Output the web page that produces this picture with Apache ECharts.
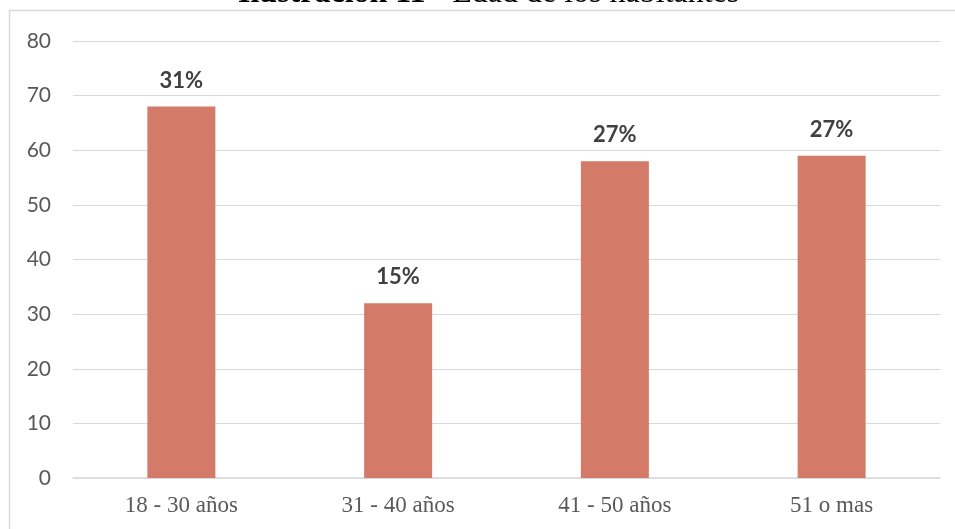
<!DOCTYPE html>
<html>
<head>
<meta charset="utf-8">
<script src="https://cdn.jsdelivr.net/npm/echarts@6/dist/echarts.min.js"></script>
<style>html,body{margin:0;padding:0;background:#fff}#c{width:955px;height:529px}</style>
</head>
<body>
<div id="c"></div>
<script>
const categories = ['18 - 30 años', '31 - 40 años', '41 - 50 años', '51 o mas'];
const values = [68, 32, 58, 59];
const percentLabels = ['31%', '15%', '27%', '27%'];
const yTicks = {min: 0, max: 80, interval: 10};

const chart = echarts.init(document.getElementById('c'), null, {renderer: 'canvas'});
chart.setOption({
  animation: false,
  backgroundColor: '#fff',
  title: {
    text: '{b|Ilustración 11}{n| - Edad de los habitantes}',
    left: 233,
    top: -27,
    textStyle: {
      fontFamily: 'Liberation Serif',
      fontSize: 32,
      color: '#000',
      rich: {
        b: {fontFamily: 'Liberation Serif', fontSize: 32, fontWeight: 'bold', color: '#000'},
        n: {fontFamily: 'Liberation Serif', fontSize: 32, fontWeight: 'normal', color: '#000'}
      }
    }
  },
  graphic: [{
    type: 'rect',
    shape: {x: 9.5, y: 10.5, width: 960, height: 540},
    style: {fill: 'none', stroke: '#d9d9d9', lineWidth: 1.5},
    silent: true
  }],
  grid: {left: 73, right: 15, top: 41, bottom: 51},
  xAxis: {
    type: 'category',
    data: categories,
    axisLine: {lineStyle: {color: '#d9d9d9', width: 1.5}},
    axisTick: {show: false},
    axisLabel: {fontFamily: 'Liberation Serif', fontSize: 23, color: '#595959', margin: 16}
  },
  yAxis: {
    type: 'value',
    min: yTicks.min, max: yTicks.max, interval: yTicks.interval,
    axisLine: {show: false},
    axisTick: {show: false},
    splitLine: {lineStyle: {color: '#d9d9d9', width: 1.2}},
    axisLabel: {fontFamily: 'Lato', fontSize: 21, color: '#595959', margin: 22}
  },
  series: [{
    type: 'bar',
    data: values,
    barWidth: 68,
    itemStyle: {color: '#d47a69'},
    label: {
      show: true,
      position: 'top',
      distance: 15,
      fontFamily: 'Lato',
      fontWeight: 'bold',
      fontSize: 22,
      color: '#404040',
      formatter: p => percentLabels[p.dataIndex]
    }
  }]
});
</script>
</body>
</html>
